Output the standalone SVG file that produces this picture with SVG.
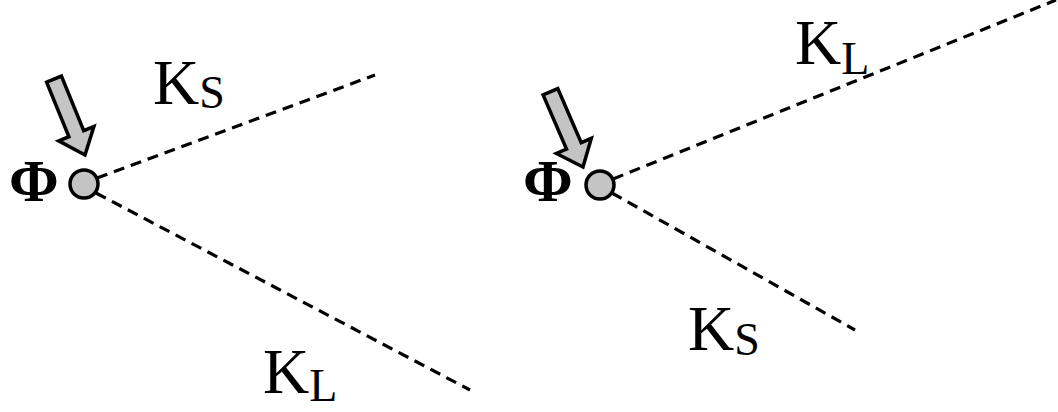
<svg xmlns="http://www.w3.org/2000/svg" width="1058" height="412" viewBox="0 0 1058 412">
  <style>
    .lbl { font-family: "Liberation Serif", "Times New Roman", serif; fill: #000; }
    .k { font-size: 64px; }
    .sub { font-size: 46px; }
    .phi { font-family: "Liberation Serif", "Times New Roman", serif; font-weight: bold; font-size: 60px; fill: #000; }
    .dot { fill: #c4c4c4; stroke: #000; stroke-width: 3.5; }
    .arrow { fill: #c4c4c4; stroke: #000; stroke-width: 3.5; stroke-linejoin: miter; }
    .ray { fill: none; stroke: #000; stroke-width: 3.2; stroke-dasharray: 11 7; }
  </style>
  <defs>
    <!-- block arrow pointing along +y, tip at origin -->
    <polygon id="blockArrow" points="-8,-82 8,-82 8,-23 19,-23 0,0 -19,-23 -8,-23"/>
  </defs>
  <rect width="1058" height="412" fill="#fff"/>

  <g id="connectors">
    <line class="ray" x1="97" y1="178" x2="375" y2="75"/>
    <line class="ray" x1="96" y1="193" x2="470" y2="390"/>
    <line class="ray" x1="613" y1="179" x2="1056" y2="0"/>
    <line class="ray" x1="612" y1="193" x2="855" y2="330"/>
  </g>

  <g id="left-source">
    <text class="phi" x="9" y="201">Φ</text>
    <circle class="dot" cx="84" cy="184" r="14"/>
    <use href="#blockArrow" class="arrow" transform="translate(85,155) rotate(-22.2)"/>
  </g>

  <g id="left-ks">
    <text class="lbl" x="153" y="104"><tspan class="k">K</tspan><tspan class="sub" dy="4">S</tspan></text>
  </g>

  <g id="left-kl">
    <text class="lbl" x="263" y="393"><tspan class="k">K</tspan><tspan class="sub" dy="8">L</tspan></text>
  </g>

  <g id="right-source">
    <text class="phi" x="523" y="201">Φ</text>
    <circle class="dot" cx="600" cy="185" r="14"/>
    <use href="#blockArrow" class="arrow" transform="translate(583,167) rotate(-23.4)"/>
  </g>

  <g id="right-kl">
    <text class="lbl" x="795" y="64"><tspan class="k">K</tspan><tspan class="sub" dy="10">L</tspan></text>
  </g>

  <g id="right-ks">
    <text class="lbl" x="688" y="350"><tspan class="k">K</tspan><tspan class="sub" dy="5">S</tspan></text>
  </g>
</svg>
